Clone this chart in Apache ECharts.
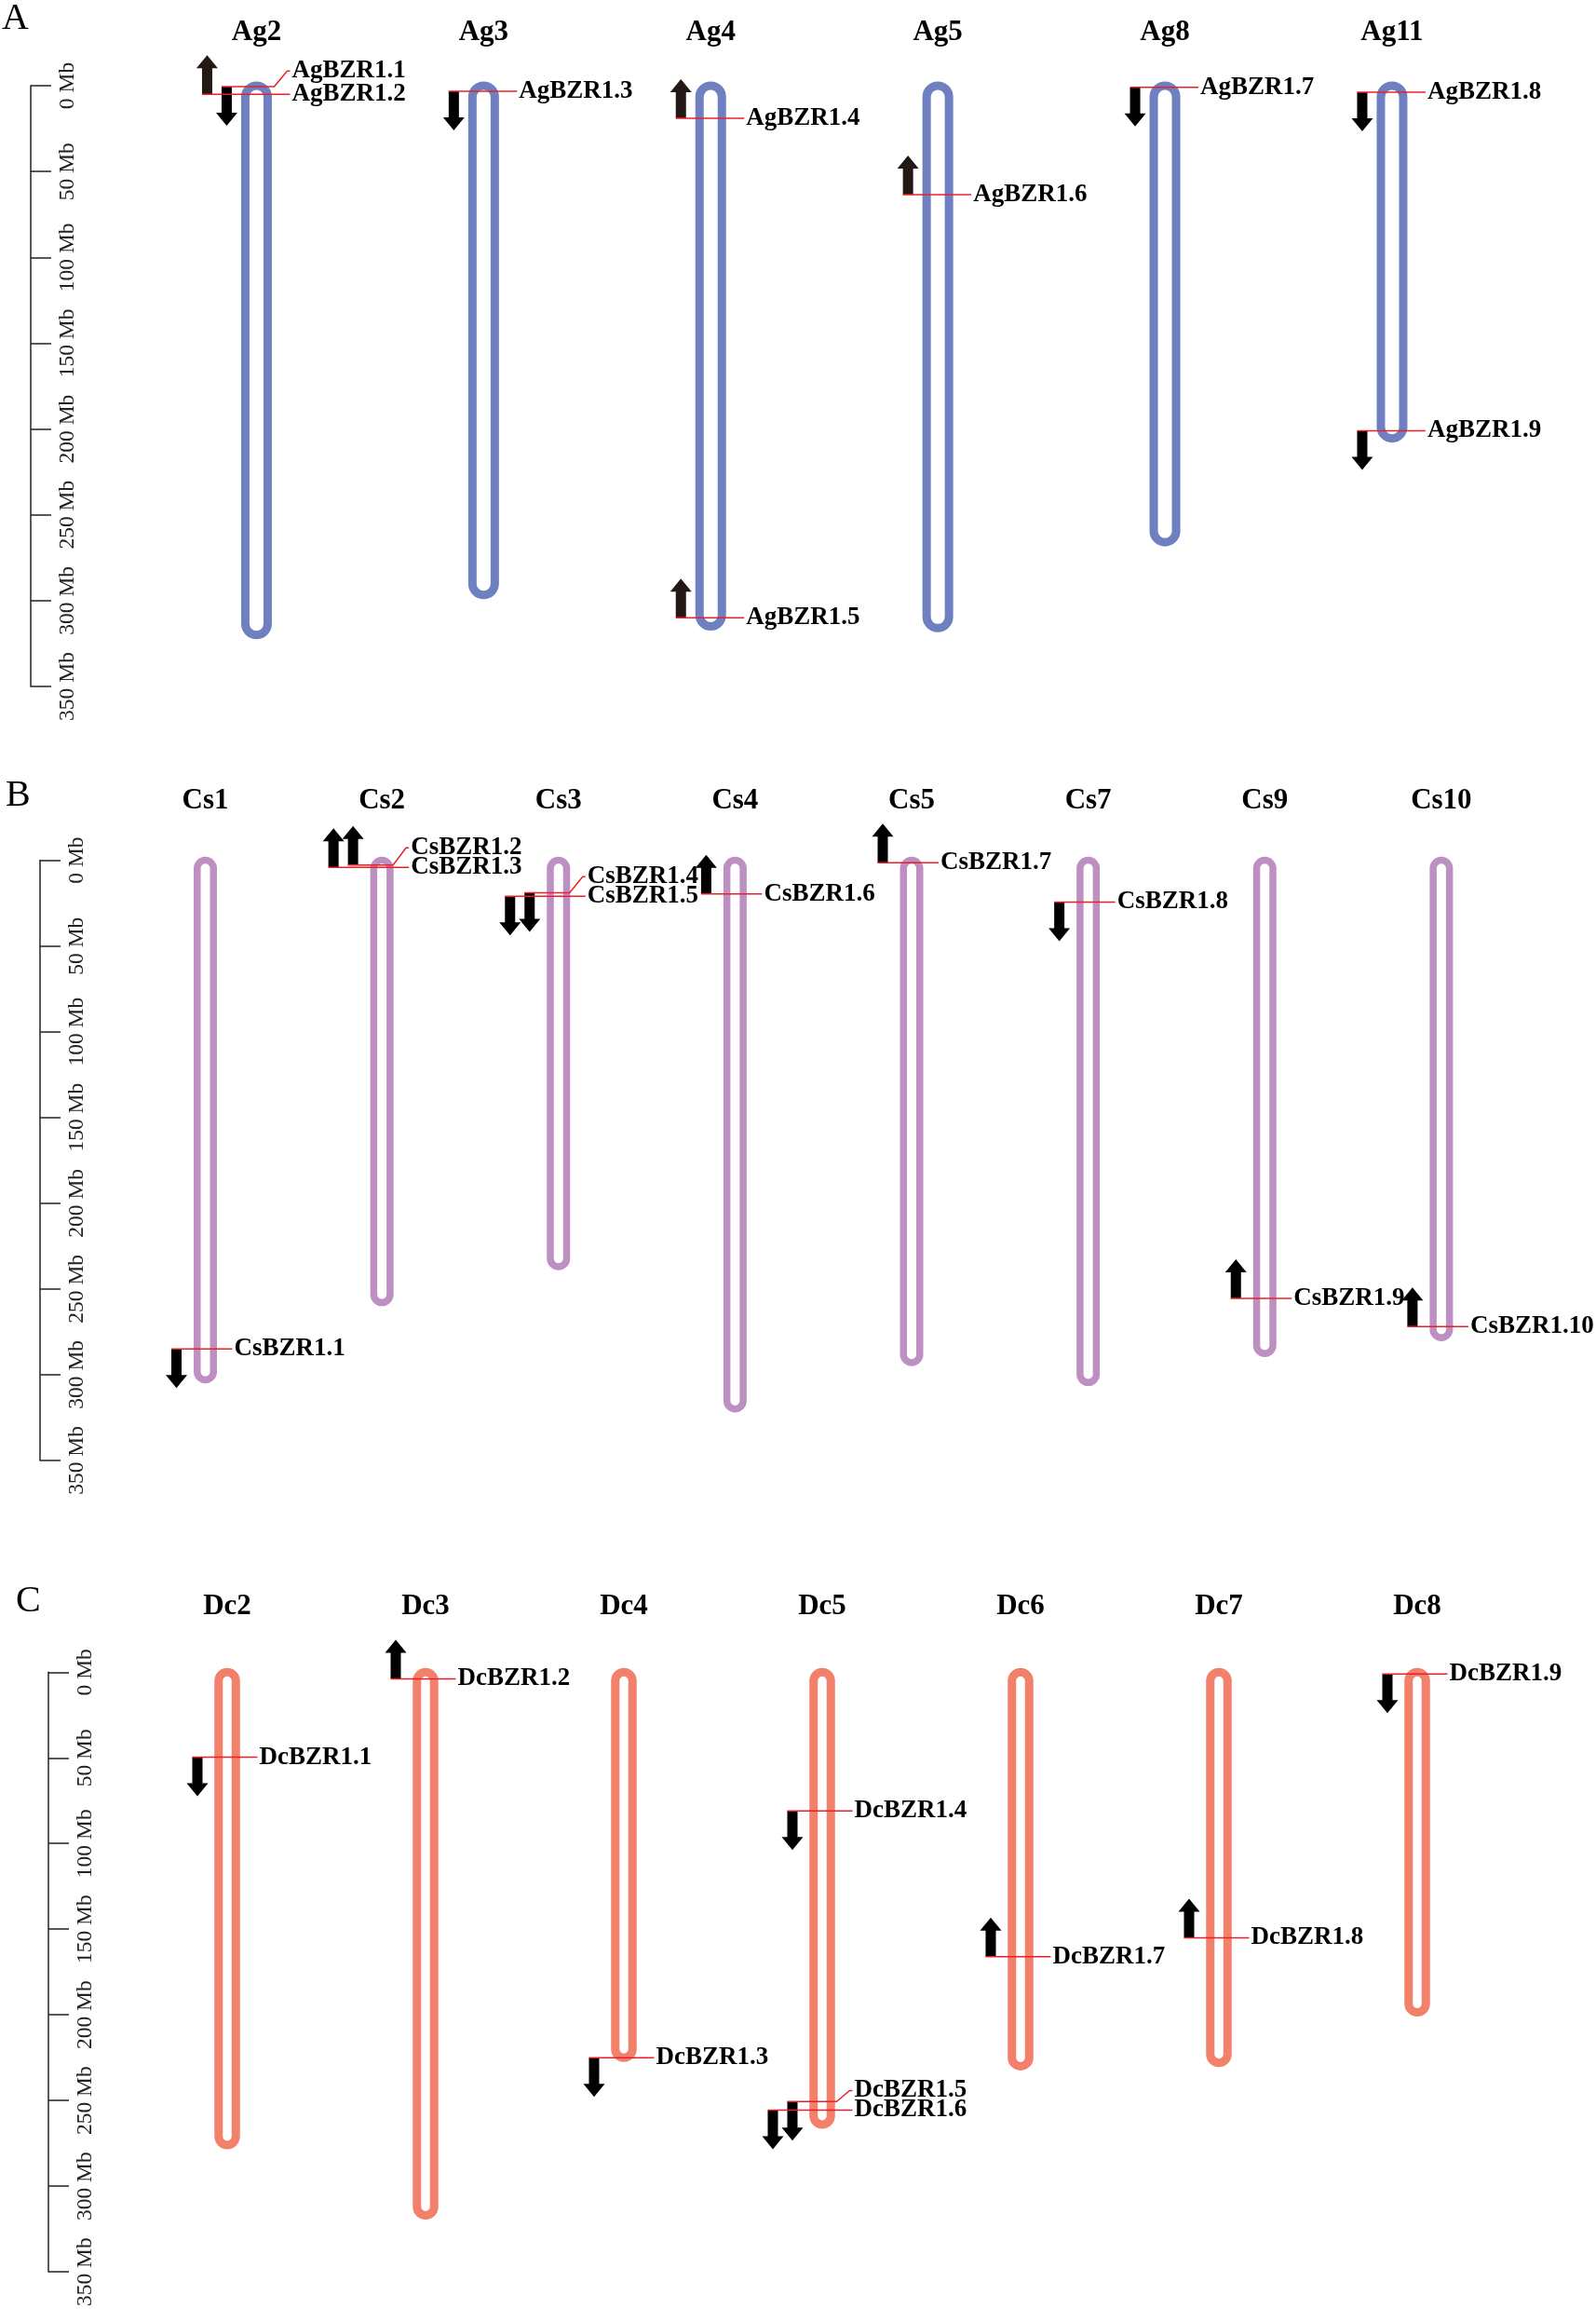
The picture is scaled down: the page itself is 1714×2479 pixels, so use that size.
<!DOCTYPE html>
<html><head><meta charset="utf-8">
<script src="https://cdn.jsdelivr.net/npm/echarts@6/dist/echarts.min.js"></script>
<style>html,body{margin:0;padding:0;background:#fff}#c{width:1714px;height:2479px}</style>
</head><body><div id="c"></div><script>
// ---------------- DATA ----------------
const mbTicks = [0, 50, 100, 150, 200, 250, 300, 350];

// Panel A (Apium graveolens)
const agChromosomes = ['Ag2', 'Ag3', 'Ag4', 'Ag5', 'Ag8', 'Ag11'];
const agLengths = [320, 296.7, 315, 316, 266, 205.5];
const agGenes = ['AgBZR1.1', 'AgBZR1.2', 'AgBZR1.3', 'AgBZR1.4', 'AgBZR1.5', 'AgBZR1.6', 'AgBZR1.7', 'AgBZR1.8', 'AgBZR1.9'];
const agGeneChrom = ['Ag2', 'Ag2', 'Ag3', 'Ag4', 'Ag4', 'Ag5', 'Ag8', 'Ag11', 'Ag11'];
const agGenePos = [0.5, 5, 3.3, 19, 310, 63.5, 1, 3.8, 201];
const agGeneStrand = ['-', '+', '-', '+', '+', '+', '-', '-', '-'];

// Panel B (Coriandrum sativum)
const csChromosomes = ['Cs1', 'Cs2', 'Cs3', 'Cs4', 'Cs5', 'Cs7', 'Cs9', 'Cs10'];
const csLengths = [303, 258, 237, 320, 293, 304.6, 287.7, 278.5];
const csGenes = ['CsBZR1.1', 'CsBZR1.2', 'CsBZR1.3', 'CsBZR1.4', 'CsBZR1.5', 'CsBZR1.6', 'CsBZR1.7', 'CsBZR1.8', 'CsBZR1.9', 'CsBZR1.10'];
const csGeneChrom = ['Cs1', 'Cs2', 'Cs2', 'Cs3', 'Cs3', 'Cs4', 'Cs5', 'Cs7', 'Cs9', 'Cs10'];
const csGenePos = [285, 2.8, 4.2, 19, 21, 19.6, 1.4, 24.4, 255.5, 272];
const csGeneStrand = ['-', '+', '+', '-', '-', '+', '+', '-', '+', '+'];

// Panel C (Daucus carota)
const dcChromosomes = ['Dc2', 'Dc3', 'Dc4', 'Dc5', 'Dc6', 'Dc7', 'Dc8'];
const dcLengths = [276, 317, 225, 264, 230, 228, 198.6];
const dcGenes = ['DcBZR1.1', 'DcBZR1.2', 'DcBZR1.3', 'DcBZR1.4', 'DcBZR1.5', 'DcBZR1.6', 'DcBZR1.7', 'DcBZR1.8', 'DcBZR1.9'];
const dcGeneChrom = ['Dc2', 'Dc3', 'Dc4', 'Dc5', 'Dc5', 'Dc5', 'Dc6', 'Dc7', 'Dc8'];
const dcGenePos = [49.6, 3.9, 225, 81, 250.6, 255.6, 166, 155, 1];
const dcGeneStrand = ['-', '+', '-', '-', '-', '-', '+', '+', '-'];

// ---------------- LAYOUT / STYLE ----------------
const FONT = "'Liberation Serif', 'Times New Roman', serif";
const panels = [
  { letter: 'A', letterX: 2, letterTop: 0, chroms: agChromosomes, lengths: agLengths, genes: agGenes, gChrom: agGeneChrom, gPos: agGenePos, gStrand: agGeneStrand,
    left: 153.5, top: 92, width: 1463.4, height: 645, axisX: 33, titleMid: 35,
    color: '#6f80c0', chromW: 24, stroke: 9, labelDx: 38, arrowDx: 32, labelGap: 25, upColor: '#231815' },
  { letter: 'B', letterX: 6, letterTop: 834, chroms: csChromosomes, lengths: csLengths, genes: csGenes, gChrom: csGeneChrom, gPos: csGenePos, gStrand: csGeneStrand,
    left: 125.7, top: 923.6, width: 1517, height: 644.3, axisX: 43, titleMid: 860,
    color: '#bd8fc3', chromW: 17.5, stroke: 7.5, labelDx: 31, arrowDx: 31, labelGap: 21, upColor: '#000' },
  { letter: 'C', letterX: 17, letterTop: 1699, chroms: dcChromosomes, lengths: dcLengths, genes: dcGenes, gChrom: dcGeneChrom, gPos: dcGenePos, gStrand: dcGeneStrand,
    left: 137.5, top: 1795.3, width: 1491, height: 644, axisX: 52, titleMid: 1724.5,
    color: '#f3806a', chromW: 18.5, stroke: 9, labelDx: 34.5, arrowDx: 32, labelGap: 21, upColor: '#000' }
];

const chart = echarts.init(document.getElementById('c'), null, { renderer: 'canvas' });
const grid = [], xAxis = [], yAxis = [], series = [], graphic = [];

panels.forEach((p, pi) => {
  grid.push({ left: p.left, top: p.top, width: p.width, height: p.height, containLabel: false });
  xAxis.push({
    gridIndex: pi, type: 'category', position: 'top', data: p.chroms, boundaryGap: true,
    axisLine: { show: false }, axisTick: { show: false }, splitLine: { show: false },
    axisLabel: { interval: 0, margin: p.top - p.titleMid, verticalAlign: 'middle', fontFamily: FONT, fontSize: 31, fontWeight: 'bold', color: '#000' }
  });
  yAxis.push({
    gridIndex: pi, type: 'value', inverse: true, min: mbTicks[0], max: mbTicks[mbTicks.length - 1], interval: 50,
    position: 'left', offset: p.left - p.axisX,
    axisLine: { show: true, lineStyle: { color: '#222', width: 1.5 } },
    axisTick: { show: true, inside: true, length: 22, lineStyle: { color: '#222', width: 1.5 } },
    splitLine: { show: false },
    axisLabel: { inside: true, rotate: 90, margin: 28, fontFamily: FONT, fontSize: 23.5, color: '#222', formatter: '{value} Mb' }
  });

  // chromosomes
  series.push({
    type: 'custom', xAxisIndex: pi, yAxisIndex: pi, clip: false, z: 2,
    data: p.lengths.map((l, i) => [i, l]),
    encode: { x: 0, y: 1 },
    renderItem: (params, api) => {
      const i = api.value(0), len = api.value(1);
      const t = api.coord([i, 0]), b = api.coord([i, len]);
      const w = p.chromW;
      return { type: 'rect', shape: { x: t[0] - w / 2, y: t[1], width: w, height: b[1] - t[1], r: w / 2 },
        style: { fill: '#fff', stroke: p.color, lineWidth: p.stroke } };
    }
  });

  // derived layout: arrow lanes and label de-overlap
  const pxPerMb = p.height / (mbTicks[mbTicks.length - 1] - mbTicks[0]);
  const gapMb = p.labelGap / pxPerMb;
  const lane = p.genes.map(() => 0), labelPos = p.gPos.slice();
  p.chroms.forEach(c => {
    const idx = p.genes.map((g, k) => k).filter(k => p.gChrom[k] === c).sort((a, b) => p.gPos[a] - p.gPos[b]);
    for (let j = 1; j < idx.length; j++) {
      if (p.gPos[idx[j]] - p.gPos[idx[j - 1]] < 12 && lane[idx[j - 1]] === 0) lane[idx[j]] = 1;
    }
    for (let j = idx.length - 2; j >= 0; j--) {
      labelPos[idx[j]] = Math.min(p.gPos[idx[j]], labelPos[idx[j + 1]] - gapMb);
    }
  });

  series.push({
    type: 'custom', xAxisIndex: pi, yAxisIndex: pi, clip: false, z: 3,
    data: p.genes.map((g, k) => [p.chroms.indexOf(p.gChrom[k]), p.gPos[k], p.gStrand[k] === '+' ? 1 : -1, lane[k], labelPos[k]]),
    encode: { x: 0, y: 1 },
    renderItem: (params, api) => {
      const ci = api.value(0), pos = api.value(1), dir = api.value(2), ln = api.value(3), lp = api.value(4);
      const pt = api.coord([ci, pos]);
      const cx = pt[0], y = pt[1];
      const ly = api.coord([ci, lp])[1];
      const ax = cx - p.arrowDx - ln * 21;
      const L = 42, hl = 14, hw = 11.5, sw = 5.5;
      const s = dir > 0 ? -1 : 1;
      const arrow = [[ax - sw, y], [ax + sw, y], [ax + sw, y + s * (L - hl)], [ax + hw, y + s * (L - hl)], [ax, y + s * L], [ax - hw, y + s * (L - hl)], [ax - sw, y + s * (L - hl)]];
      const lx = cx + p.labelDx;
      return { type: 'group', children: [
        { type: 'polygon', shape: { points: arrow }, style: { fill: dir > 0 ? p.upColor : '#000' } },
        { type: 'polyline', shape: { points: [[ax - sw, y], [lx - 19, y], [lx - 5, ly], [lx - 2, ly]] }, style: { stroke: '#e8202a', lineWidth: 1.5, fill: null } },
        { type: 'text', x: lx, y: ly, style: { text: p.genes[params.dataIndex], fill: '#000', font: 'bold 27px ' + FONT, textAlign: 'left', verticalAlign: 'middle', textVerticalAlign: 'middle' } }
      ] };
    }
  });

  graphic.push({ type: 'text', left: p.letterX, top: p.letterTop, style: { text: p.letter, fill: '#000', font: '40px ' + FONT } });
});

chart.setOption({ animation: false, backgroundColor: '#fff', grid, xAxis, yAxis, series, graphic });
</script></body></html>
